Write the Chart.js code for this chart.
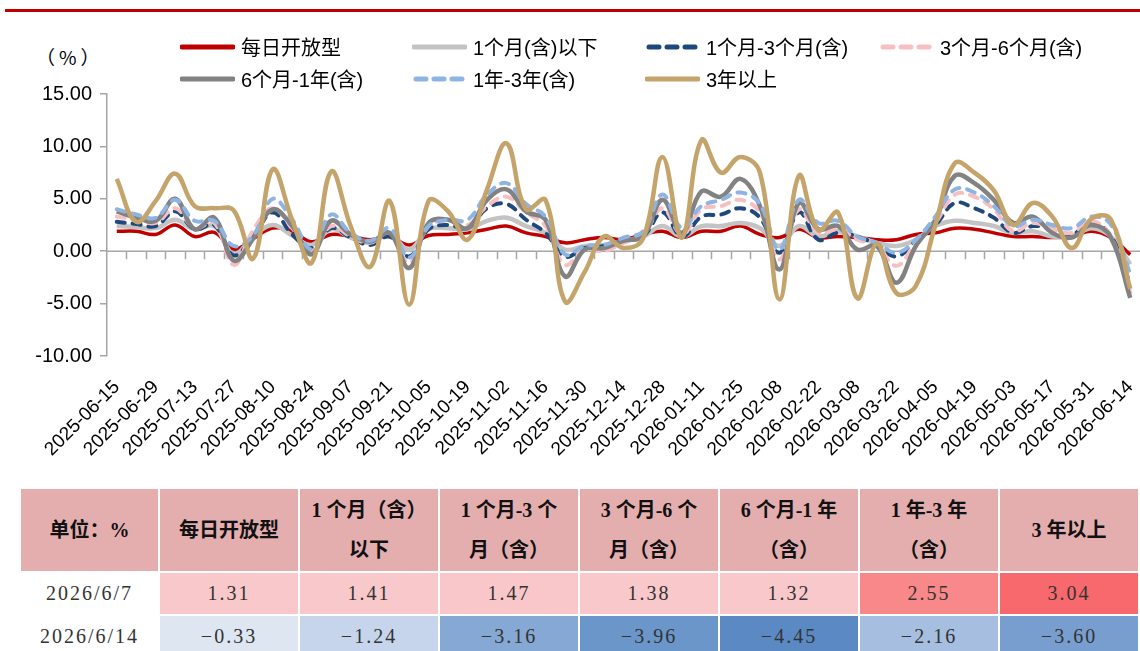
<!DOCTYPE html>
<html><head><meta charset="utf-8">
<script src="https://cdn.jsdelivr.net/npm/chart.js@4.4.1/dist/chart.umd.min.js"></script>
<style>
html,body{margin:0;padding:0;background:#fff;}
body{width:1140px;height:651px;position:relative;overflow:hidden;font-family:"Liberation Sans",Arial,"Noto Sans CJK SC",sans-serif;}
#topline{position:absolute;left:5px;top:9px;width:1135px;height:3px;background:#C00000;}
#wrap{position:absolute;left:0;top:0;width:1140px;height:480px;}
#unit{position:absolute;left:36px;top:43px;font-size:19px;color:#000;font-family:"Noto Sans CJK SC",sans-serif;letter-spacing:4px;}
.lg{position:absolute;display:flex;align-items:center;font-size:20px;color:#000;white-space:nowrap;font-family:"Liberation Sans","Noto Sans CJK SC",sans-serif;}
.lg svg{margin-right:6px;}
#tbl{position:absolute;left:19px;top:487px;border-collapse:collapse;table-layout:fixed;}
#tbl td{border:2px solid #fff;text-align:center;padding:0;color:#333;}
#tbl tr.h td{height:82px;background:#E4AEAF;font-weight:bold;font-size:20px;line-height:40px;color:#111;white-space:pre-line;font-family:"Liberation Serif","Noto Sans CJK SC",serif;}
#tbl tr.v td{height:41px;font-size:20px;font-family:"Liberation Serif","Noto Serif CJK SC",serif;letter-spacing:2px;}
</style>
</head>
<body>
<div id="topline"></div>
<div id="unit">（%）</div>
<div id="wrap"><canvas id="c" width="1140" height="480"></canvas></div>
<div id="legend"></div>
<table id="tbl"></table>
<script>
const categories = ['2025-06-15','2025-06-22','2025-06-29','2025-07-06','2025-07-13','2025-07-20','2025-07-27','2025-08-03','2025-08-10','2025-08-17','2025-08-24','2025-08-31','2025-09-07','2025-09-14','2025-09-21','2025-09-28','2025-10-05','2025-10-12','2025-10-19','2025-10-26','2025-11-02','2025-11-09','2025-11-16','2025-11-23','2025-11-30','2025-12-07','2025-12-14','2025-12-21','2025-12-28','2026-01-04','2026-01-11','2026-01-18','2026-01-25','2026-02-01','2026-02-08','2026-02-15','2026-02-22','2026-03-01','2026-03-08','2026-03-15','2026-03-22','2026-03-29','2026-04-05','2026-04-12','2026-04-19','2026-04-26','2026-05-03','2026-05-10','2026-05-17','2026-05-24','2026-05-31','2026-06-07','2026-06-14'];

const seriesNames = ['每日开放型','1个月(含)以下','1个月-3个月(含)','3个月-6个月(含)','6个月-1年(含)','1年-3年(含)','3年以上'];

const dailyOpen = [1.9,1.9,1.6,2.5,1.4,1.8,0.2,1.2,2.2,1.9,0.9,1.6,1.4,1.1,1.4,0.6,1.5,1.6,1.75,2.1,2.4,1.75,1.4,0.8,1.1,1.3,1.1,1.6,1.9,1.3,1.9,1.9,2.4,1.6,1.3,2.1,1.3,1.4,1.3,1.1,1.1,1.6,1.75,2.2,2.1,1.75,1.4,1.4,1.3,1.4,1.9,1.31,-0.33];
const month1Below = [2.4,2.3,2.2,3.0,2.1,2.4,-0.3,1.4,2.5,1.5,0.6,2.1,1.3,0.8,1.6,0.15,2.1,2.2,2.1,2.9,3.2,2.4,1.75,0.15,0.5,0.6,1.0,1.4,2.4,1.4,2.4,2.4,2.7,2.2,0.5,2.4,1.4,1.9,1.4,0.8,0.5,1.1,2.4,2.9,2.7,2.4,1.75,1.9,1.4,1.4,2.2,1.41,-1.24];
const month1to3 = [2.8,2.6,2.4,3.8,2.1,2.5,-0.4,1.4,3.7,1.6,0.3,2.2,1.3,0.6,1.4,-0.5,2.1,2.5,2.2,4.1,4.5,3.0,1.75,-0.5,0.3,0.5,1.0,1.4,3.7,1.4,3.3,3.5,4.1,3.2,-0.15,3.7,1.1,1.75,1.4,0.6,-0.5,1.0,2.5,4.6,4.1,3.2,1.75,2.4,2.1,1.6,2.7,1.47,-3.16];
const month3to6 = [3.3,3.0,2.7,4.1,2.2,2.7,-1.3,2.0,4.1,2.2,0.0,2.4,1.4,0.8,1.75,-1.1,2.4,2.9,2.5,4.3,5.2,3.7,2.4,-1.3,0.15,0.0,0.8,1.6,4.1,1.6,4.0,4.3,4.9,3.7,-0.8,4.0,1.75,2.1,1.1,0.5,-1.4,0.8,2.7,5.4,5.2,4.0,1.9,2.7,2.1,1.75,2.9,1.38,-3.96];
const month6to1y = [3.8,3.2,2.9,5.0,2.1,3.2,-0.9,1.2,4.0,2.4,-0.3,2.9,1.6,0.9,1.75,-1.6,2.7,3.0,2.2,4.9,5.9,3.8,3.0,-2.4,0.15,0.3,1.0,1.4,4.9,1.75,5.7,5.2,6.9,4.3,-1.75,4.6,2.1,2.4,0.15,0.5,-3.0,0.5,3.0,7.2,6.5,4.9,2.7,3.3,1.75,1.3,2.5,1.32,-4.45];
const year1to3 = [4.0,3.5,3.2,4.9,2.9,2.9,0.5,1.5,5.0,3.0,0.2,3.5,1.75,1.0,2.2,-0.6,2.4,3.0,3.0,5.4,6.5,4.5,3.3,-0.3,0.5,0.6,1.3,1.9,5.4,2.2,4.3,4.9,5.6,4.5,0.15,4.9,2.7,2.9,1.4,0.8,-0.15,1.1,3.3,5.9,5.6,4.3,2.4,3.0,2.5,2.2,3.3,2.55,-2.16];
const year3Above = [6.9,2.8,4.8,7.4,4.3,4.1,3.9,-0.7,7.8,3.0,-1.1,7.6,2.4,-1.5,4.8,-5.1,4.8,3.8,1.1,5.9,10.3,4.0,4.9,-4.8,-2.0,1.4,0.3,1.2,9.0,1.3,10.6,7.5,9.0,7.5,-4.6,7.2,2.0,3.7,-4.5,0.7,-4.0,-3.3,2.5,8.4,7.5,5.8,2.5,4.6,3.3,0.3,3.1,3.04,-3.60];

const yTickValues = [-10,-5,0,5,10,15];

const tableHeaders = ['单位：%','每日开放型','1 个月（含）\n以下','1 个月-3 个\n月（含）','3 个月-6 个\n月（含）','6 个月-1 年\n（含）','1 年-3 年\n（含）','3 年以上'];
const tableDates = ['2026/6/7','2026/6/14'];
const tableRow1 = [1.31,1.41,1.47,1.38,1.32,2.55,3.04];
const tableRow2 = [-0.33,-1.24,-3.16,-3.96,-4.45,-2.16,-3.60];

// styles
const seriesData = [dailyOpen,month1Below,month1to3,month3to6,month6to1y,year1to3,year3Above];
const seriesColors = ['#C00000','#C3C3C3','#1F497D','#F8BFC3','#828282','#8DB4E2','#C4A46A'];
const seriesDashed = [false,false,true,true,false,true,false];
const seriesWidths = [3.5,4.5,4,4,4.5,4,4.5];
const legendPos = [[180,46],[412,46],[645,46],[879,46],[180,78],[412,78],[645,78]];
const row1Colors = ['#F9C8CB','#F9C8CB','#F9C7CA','#F9C8CB','#F9C8CB','#F8888A','#F7696D'];
const row2Colors = ['#DEE6F2','#C6D5EB','#86A8D4','#6B96CA','#5A89C4','#A6BEE0','#779ECE'];
const colWidths = [139,140,140,140,140,140,140,140];

// legend
const lgHost = document.getElementById('legend');
seriesNames.forEach((n,k)=>{
  const d = document.createElement('div');
  d.className='lg';
  d.style.left = legendPos[k][0]+'px';
  d.style.top = (legendPos[k][1]-14)+'px';
  const dash = seriesDashed[k] ? 'stroke-dasharray="10 8"' : '';
  d.innerHTML = '<svg width="55" height="8"><line x1="'+(seriesDashed[k]?4:2)+'" y1="4" x2="53" y2="4" stroke="'+seriesColors[k]+'" stroke-width="5" stroke-linecap="round" '+dash+'/></svg><span>'+n+'</span>';
  lgHost.appendChild(d);
});

// table
const tbl = document.getElementById('tbl');
let html = '<colgroup>' + colWidths.map(w=>'<col style="width:'+w+'px">').join('') + '</colgroup>';
html += '<tr class="h">' + tableHeaders.map(h=>'<td>'+h+'</td>').join('') + '</tr>';
html += '<tr class="v"><td>'+tableDates[0]+'</td>' + tableRow1.map((v,i)=>'<td style="background:'+row1Colors[i]+'">'+v.toFixed(2)+'</td>').join('') + '</tr>';
html += '<tr class="v"><td>'+tableDates[1]+'</td>' + tableRow2.map((v,i)=>'<td style="background:'+row2Colors[i]+'">'+v.toFixed(2).replace('-','−')+'</td>').join('') + '</tr>';
tbl.innerHTML = html;

// zero axis with category tick marks
const zeroAxis = {
  id:'zeroAxis',
  beforeDatasetsDraw(chart){
    const {ctx, chartArea:a, scales:{x,y}} = chart;
    const y0 = y.getPixelForValue(0);
    ctx.save();
    ctx.strokeStyle='#A6A6A6'; ctx.lineWidth=1.5;
    ctx.beginPath();
    ctx.moveTo(a.left,y0); ctx.lineTo(a.right,y0);
    for(let i=1;i<categories.length;i++){
      const px = Math.round((x.getPixelForValue(i-1)+x.getPixelForValue(i))/2)+0.5;
      ctx.moveTo(px,y0); ctx.lineTo(px,y0+8);
    }
    ctx.stroke();
    ctx.restore();
  }
};

new Chart(document.getElementById('c'),{
  type:'line',
  data:{
    labels:categories,
    datasets:seriesData.map((d,k)=>({
      label:seriesNames[k],
      data:d,
      borderColor:seriesColors[k],
      backgroundColor:seriesColors[k],
      borderWidth:seriesWidths[k],
      borderDash:seriesDashed[k]?[8,8]:[],
      borderCapStyle:seriesDashed[k]?'round':'butt',
      borderJoinStyle:'round',
      pointRadius:0,
      tension:0.4,
      fill:false,
      order:seriesNames.length-k
    }))
  },
  options:{
    responsive:false,
    animation:false,
    devicePixelRatio:1,
    layout:{padding:{top:94,right:0,left:0,bottom:0}},
    plugins:{legend:{display:false},tooltip:{enabled:false}},
    scales:{
      x:{
        type:'category',
        offset:true,
        grid:{display:false,drawTicks:false},
        border:{display:false},
        afterFit(s){s.height=124;s.paddingRight=0;s.paddingLeft=0;},
        ticks:{
          autoSkip:false,
          minRotation:45,maxRotation:45,
          padding:20,
          color:'#000',
          font:{family:'"Liberation Sans", Arial, sans-serif',size:19},
          callback:(v,i)=> i%2===0 ? categories[i] : ''
        }
      },
      y:{
        min:-10,max:15,
        afterFit(s){s.width=107;},
        afterBuildTicks(s){s.ticks = yTickValues.map(v=>({value:v}));},
        grid:{drawOnChartArea:false,drawTicks:true,tickLength:7,color:'#A6A6A6',lineWidth:1.5},
        border:{display:true,color:'#A6A6A6',width:1.5},
        ticks:{
          padding:8,
          color:'#000',
          font:{family:'"Liberation Sans", Arial, sans-serif',size:20},
          callback:v=>Number(v).toFixed(2)
        }
      }
    }
  },
  plugins:[zeroAxis]
});
</script>
</body></html>
